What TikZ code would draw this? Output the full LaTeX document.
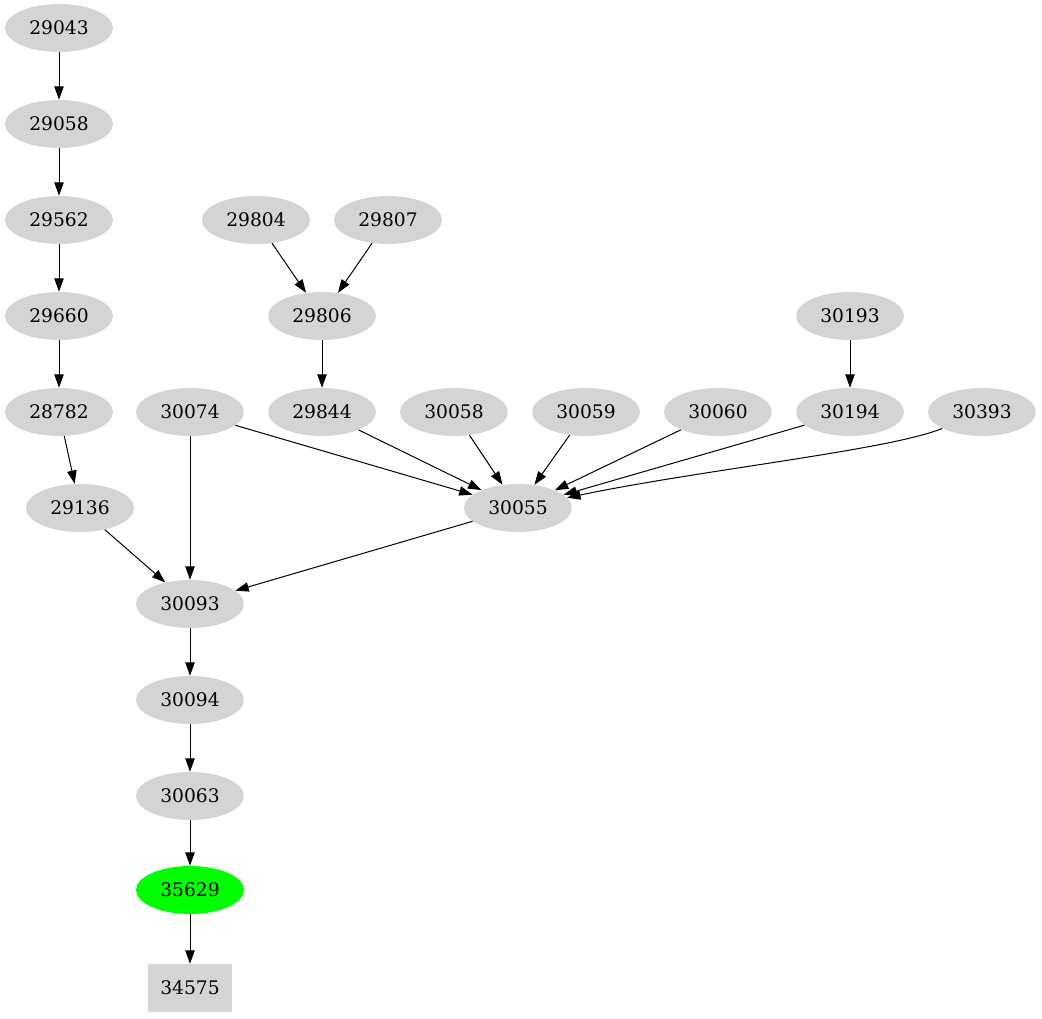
\documentclass[tikz,border=0pt]{standalone}
\usepackage{fontspec}
\setmainfont{DejaVu Serif}
\usetikzlibrary{arrows.meta,shapes.geometric}
\begin{document}
\begin{tikzpicture}[x=0.75pt,y=-0.75pt,
  nd/.style={ellipse,fill=black!17,minimum width=81pt,minimum height=36pt,inner sep=0pt,font=\fontsize{14}{16}\selectfont},
  gr/.style={nd,fill=green},
  bx/.style={rectangle,fill=black!17,minimum width=63pt,minimum height=36pt,inner sep=0pt,font=\fontsize{14}{16}\selectfont},
  ar/.style={-{Triangle[length=10pt,width=7pt]},black,line width=0.75pt}]
\useasboundingbox (0,0) rectangle (1042,1019);
\node[nd] (n29043) at (59,28) {29043};
\node[nd] (n29058) at (59,124) {29058};
\node[nd] (n29562) at (59,220) {29562};
\node[nd] (n29660) at (59,316) {29660};
\node[nd] (n28782) at (59,412) {28782};
\node[nd] (n29136) at (80,508) {29136};
\node[nd] (n30074) at (190,412) {30074};
\node[nd] (n30093) at (190,604) {30093};
\node[nd] (n30094) at (190,700) {30094};
\node[nd] (n30063) at (190,796) {30063};
\node[gr] (n35629) at (190,890) {35629};
\node[bx] (n34575) at (190,988) {34575};
\node[nd] (n29804) at (256,220) {29804};
\node[nd] (n29807) at (388,220) {29807};
\node[nd] (n29806) at (322,316) {29806};
\node[nd] (n29844) at (322,412) {29844};
\node[nd] (n30058) at (454,412) {30058};
\node[nd] (n30059) at (586,412) {30059};
\node[nd] (n30060) at (718,412) {30060};
\node[nd] (n30193) at (850,316) {30193};
\node[nd] (n30194) at (850,412) {30194};
\node[nd] (n30393) at (982,412) {30393};
\node[nd] (n30055) at (518,508) {30055};

\draw[ar] (n29043) -- (n29058);
\draw[ar] (n29058) -- (n29562);
\draw[ar] (n29562) -- (n29660);
\draw[ar] (n29660) -- (n28782);
\draw[ar] (n28782) -- (n29136);
\draw[ar] (n29136) -- (n30093);
\draw[ar] (n30074) -- (n30093);
\draw[ar] (n30074) -- (n30055);
\draw[ar] (n30055) -- (n30093);
\draw[ar] (n30093) -- (n30094);
\draw[ar] (n30094) -- (n30063);
\draw[ar] (n30063) -- (n35629);
\draw[ar] (n35629) -- (n34575);
\draw[ar] (n29804) -- (n29806);
\draw[ar] (n29807) -- (n29806);
\draw[ar] (n29806) -- (n29844);
\draw[ar] (n29844) -- (n30055);
\draw[ar] (n30058) -- (n30055);
\draw[ar] (n30059) -- (n30055);
\draw[ar] (n30060) -- (n30055);
\draw[ar] (n30193) -- (n30194);
\draw[ar] (n30194) -- (n30055);
\draw[ar] (n30393) .. controls (890,450) and (700,470) .. (n30055);
\end{tikzpicture}
\end{document}
